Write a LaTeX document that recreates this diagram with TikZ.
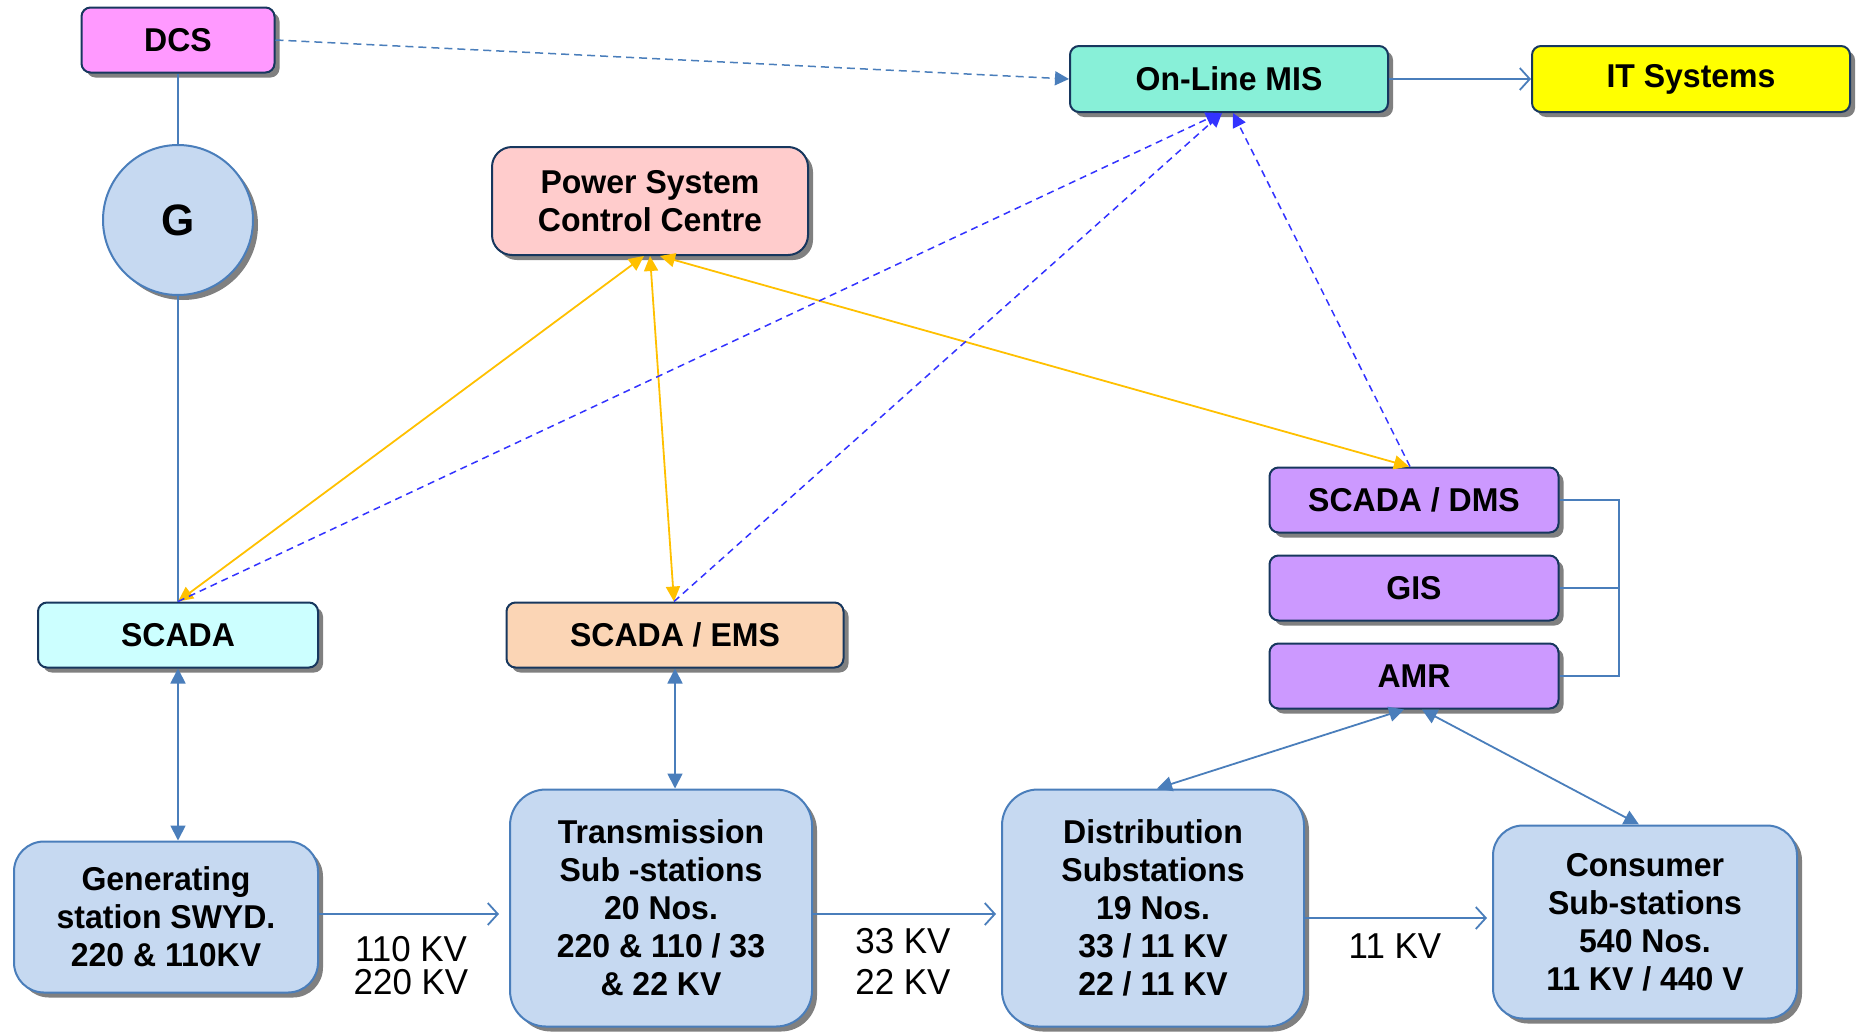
\documentclass[tikz,border=0pt]{standalone}
\usepackage{fontspec}
\setmainfont[FakeStretch=0.97]{Liberation Sans}
\usetikzlibrary{shadows,arrows.meta}

\definecolor{navy}{HTML}{17375E}
\definecolor{steel}{HTML}{4A7EBB}
\definecolor{dashblue}{HTML}{3333FF}
\definecolor{amber}{HTML}{FFC000}
\definecolor{dcsfill}{HTML}{FF99FF}
\definecolor{misfill}{HTML}{88F0D8}
\definecolor{itfill}{HTML}{FFFF00}
\definecolor{psccfill}{HTML}{FFCCCC}
\definecolor{scadafill}{HTML}{CCFFFF}
\definecolor{emsfill}{HTML}{FBD5B5}
\definecolor{dmsfill}{HTML}{CC99FF}
\definecolor{plantfill}{HTML}{C6D9F1}

\begin{document}
\begin{tikzpicture}[x=1pt,y=-1pt,
  boxshadow/.style={drop shadow={shadow xshift=5pt,shadow yshift=-5pt,fill=black!50,opacity=1}},
  sysbox/.style={draw=navy,line width=2pt,rounded corners=9pt,boxshadow,inner sep=0pt,
    align=center,font=\fontsize{33}{38}\selectfont\bfseries},
  plant/.style={draw=steel,line width=2pt,rounded corners=30pt,fill=plantfill,boxshadow,
    inner sep=0pt,align=center,font=\fontsize{33}{38}\selectfont\bfseries},
  kvlabel/.style={align=center,inner sep=0pt},
  wire/.style={steel,line width=1.8pt},
  feed/.style={steel,line width=1.8pt,-{Straight Barb[length=10pt,width=22pt]}},
  link/.style={steel,line width=1.8pt,{Triangle[length=15pt,width=15pt]}-{Triangle[length=15pt,width=15pt]}},
  ctrl/.style={amber,line width=1.8pt,{Triangle[length=15pt,width=14pt]}-{Triangle[length=15pt,width=14pt]}},
  report/.style={dashblue,line width=1.5pt,dash pattern=on 7pt off 5pt,-{Triangle[length=14pt,width=14pt]}},
  dcslink/.style={steel,line width=1.5pt,dash pattern=on 8pt off 5pt,-{Triangle[length=14pt,width=14pt]}}
]
\useasboundingbox (0,0) rectangle (1858,1031);

% control and information systems
\node[sysbox,fill=dcsfill,minimum width=193pt,minimum height=65pt] (dcs) at (178,40) {DCS};
\node[draw=steel,line width=2pt,circle,fill=plantfill,boxshadow,minimum size=150pt,inner sep=0pt,
  font=\fontsize{44}{44}\selectfont\bfseries] (gen) at (178,220) {G};
\node[sysbox,fill=misfill,minimum width=318pt,minimum height=66pt] (mis) at (1229,79) {On-Line MIS};
\node[sysbox,fill=itfill,minimum width=318pt,minimum height=66pt] (it) at (1691,79) {IT Systems};
\node[sysbox,fill=psccfill,minimum width=316pt,minimum height=108pt,rounded corners=20pt] (pscc) at (650,201) {Power System\\Control Centre};
\node[sysbox,fill=scadafill,minimum width=280pt,minimum height=65pt] (scada) at (178,635) {SCADA};
\node[sysbox,fill=emsfill,minimum width=337pt,minimum height=65pt] (ems) at (675,635) {SCADA / EMS};
\node[sysbox,fill=dmsfill,minimum width=289pt,minimum height=65pt] (dms) at (1414,500) {SCADA / DMS};
\node[sysbox,fill=dmsfill,minimum width=289pt,minimum height=65pt] (gis) at (1414,588) {GIS};
\node[sysbox,fill=dmsfill,minimum width=289pt,minimum height=65pt] (amr) at (1414,676) {AMR};

% power network stations
\node[plant,minimum width=304pt,minimum height=151pt] (swyd) at (166,917) {Generating\\station SWYD.\\220 \& 110KV};
\node[plant,minimum width=302pt,minimum height=237pt,rounded corners=36pt] (trans) at (661,908) {Transmission\\Sub -stations\\20 Nos.\\220 \& 110 / 33\\\& 22 KV};
\node[plant,minimum width=302pt,minimum height=237pt,rounded corners=36pt] (dist) at (1153,908) {Distribution\\Substations\\19 Nos.\\33 / 11 KV\\22 / 11 KV};
\node[plant,minimum width=304pt,minimum height=193pt] (cons) at (1645,922) {Consumer\\Sub-stations\\540 Nos.\\11 KV / 440 V};

% voltage labels
\node[kvlabel,font=\fontsize{36}{33}\selectfont] (v1) at (411,966) {110 KV\\220 KV};
\node[kvlabel,font=\fontsize{36}{41}\selectfont] (v2) at (903,961) {33 KV\\22 KV};
\node[kvlabel,font=\fontsize{36}{41}\selectfont] (v3) at (1395,946) {11 KV};

% generator chain
\draw[wire] (dcs) -- (gen);
\draw[wire] (gen) -- (scada);
\draw[dcslink] (dcs.east) -- (mis.west);
\draw[feed] (mis.east) -- (it.west);

% power flow
\draw[feed,shorten >=10pt] ([yshift=3pt]swyd.east) -- ([yshift=3pt]swyd.east -| trans.west);
\draw[feed,shorten >=5pt] ([yshift=-6pt]trans.east) -- ([yshift=-6pt]trans.east -| dist.west);
\draw[feed,shorten >=5pt] ([yshift=4pt]cons.west -| dist.east) -- ([yshift=4pt]cons.west);

% field links
\draw[link] (scada.south) -- (swyd.north -| scada.south);
\draw[link] (ems.south) -- (trans.north -| ems.south);
\draw[link] ([xshift=-10pt]amr.south) -- ([xshift=4pt]dist.north);
\draw[link] ([xshift=8pt]amr.south) -- ([xshift=-6pt]cons.north);

% distribution system group
\coordinate (grp) at (1619,500);
\draw[steel,line width=1.3pt] (dms.east) -- (grp) -- (grp |- amr.east) -- (amr.east);
\draw[steel,line width=1.3pt] (gis.east) -- (gis.east -| grp);

% control centre links
\draw[ctrl] ([xshift=-6pt]pscc.south) -- (scada.north);
\draw[ctrl] (pscc.south) -- ([xshift=-1pt]ems.north);
\draw[ctrl] ([xshift=10pt]pscc.south) -- ([xshift=-5pt]dms.north);

% MIS reporting links
\draw[report] (scada.north) -- ([xshift=-9pt]mis.south);
\draw[report] ([xshift=-1pt]ems.north) -- ([xshift=-7pt]mis.south);
\draw[report] ([xshift=-4pt]dms.north) -- ([xshift=4pt]mis.south);
\end{tikzpicture}
\end{document}
